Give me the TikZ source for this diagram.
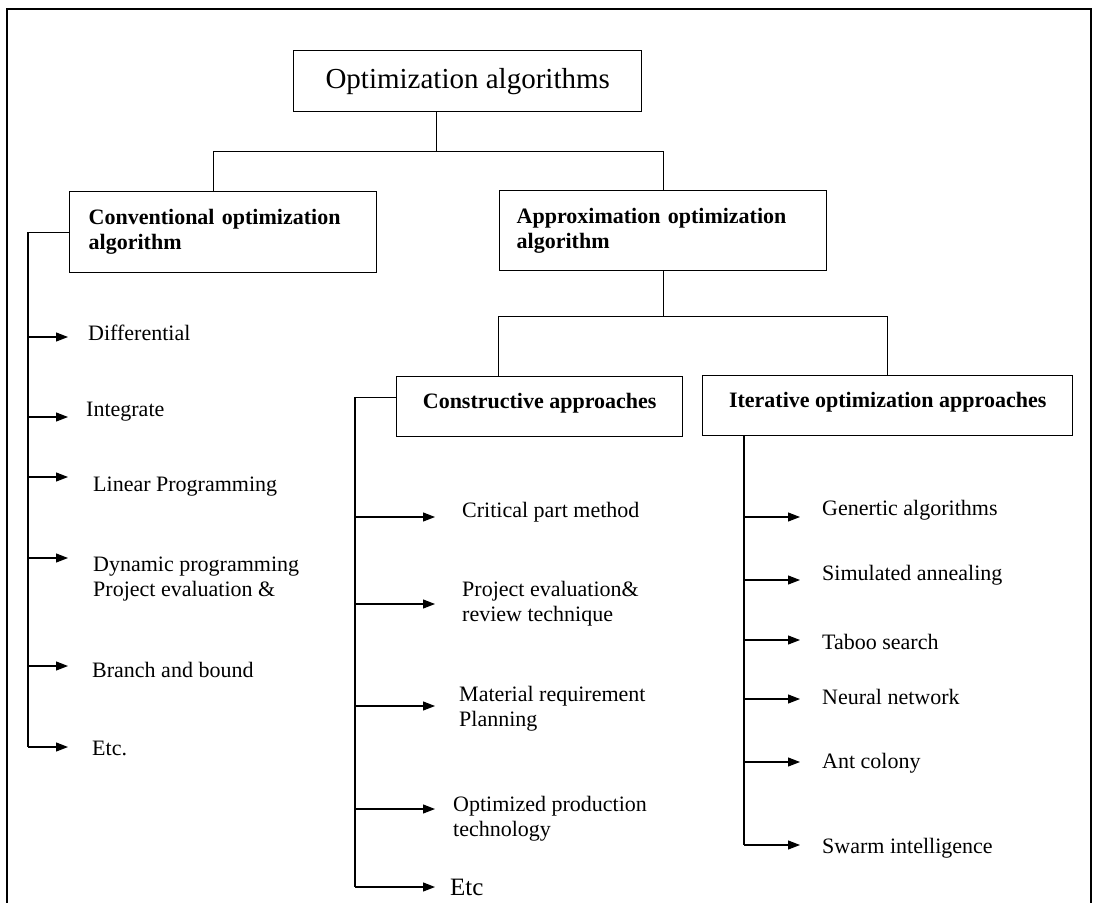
\documentclass[tikz,border=0pt]{standalone}
\usepackage{fontspec}
\setmainfont{Liberation Serif}
\usetikzlibrary{arrows.meta}
\tikzset{block/.style={draw, line width=1.4pt, anchor=north west, font=\bfseries\fontsize{22}{25}\selectfont},
item/.style={anchor=west, inner sep=0pt, align=left, font=\fontsize{22}{25}\selectfont},
link/.style={line width=1.1pt},
arrow/.style={line width=1.1pt, -{Triangle[length=12pt,width=9pt]}}
}

\begin{document}
\begin{tikzpicture}[x=1pt, y=-1pt]
    \useasboundingbox (0,0) rectangle (1096,903);
    % Frame
    \draw[line width=1.4pt] (7,903) |- (1091,9) -- (1091,903);
    % Nodes
    \node[block, font=\fontsize{29}{32}\selectfont, minimum width=348pt, minimum height=61pt] (optim) at (293,50) {Optimization algorithms};
    \node[block, minimum width=307pt, minimum height=81pt, text width=269pt, inner xsep=19pt, align=left] (conv) at (69,191) {Conventional optimization\\algorithm};
    \node[block, minimum width=327pt, minimum height=80pt, text width=293pt, inner xsep=17pt, align=left] (approx) at (499,190) {Approximation optimization\\algorithm};
    \node[block, minimum width=286pt, minimum height=60pt, text depth=12pt] (constr) at (396,376) {Constructive approaches};
    \node[block, minimum width=370pt, minimum height=60pt, text depth=12pt] (iter) at (702,375) {Iterative optimization approaches};
    % Tree
    \draw[link] ([xshift=-31pt]optim.south) -- ++(0,39) coordinate (j1);
    \draw[link] ([xshift=-10pt]conv.north) |- (j1) -| (approx.north);
    \draw[link] (approx.south) -- ++(0,45) coordinate (j2);
    \draw[link] ([xshift=-41pt]constr.north) |- (j2) -| (iter.north);
    % Conventional methods
    \foreach \n/\tx/\ty/\ay/\txt in {
        d1/88/333/337/Differential,
        d2/86/412/417/Integrate,
        d3/93/487/477/Linear Programming,
        d4/93/579/558/{Dynamic programming\\Project evaluation \&},
        d5/92/670/666/Branch and bound,
        d6/92/748/747/Etc.}{
        \node[item] (\n) at (\tx,\ty) {\txt};
        \coordinate (\n-s) at (28,\ay);
        \coordinate (\n-e) at (68,\ay);
        \draw[arrow] (\n-s) -- (\n-e);
    }
    \draw[link] (conv.west) -| (d6-s);
    % Constructive methods
    \foreach \n/\tx/\ty/\ay/\txt in {
        c1/462/512/517/Critical part method,
        c2/462/604/604/{Project evaluation\&\\review technique},
        c3/459/709/706/{Material requirement\\Planning},
        c4/453/819/809/{Optimized production\\technology}}{
        \node[item] (\n) at (\tx,\ty) {\txt};
        \coordinate (\n-s) at (355,\ay);
        \coordinate (\n-e) at (435,\ay);
        \draw[arrow] (\n-s) -- (\n-e);
    }
    \node[item, font=\fontsize{25}{28}\selectfont] (c5) at (450,887) {Etc};
    \coordinate (c5-s) at (355,887);
    \coordinate (c5-e) at (435,887);
    \draw[arrow] (c5-s) -- (c5-e);
    \draw[link] ([yshift=9pt]constr.west) -| (c5-s);
    % Iterative methods
    \foreach \n/\ty/\ay/\txt in {
        i1/510/517/Genertic algorithms,
        i2/575/580/Simulated annealing,
        i3/642/640/Taboo search,
        i4/697/699/Neural network,
        i5/763/762/Ant colony,
        i6/848/845/Swarm intelligence}{
        \node[item] (\n) at (822,\ty) {\txt};
        \coordinate (\n-s) at (744,\ay);
        \coordinate (\n-e) at (800,\ay);
        \draw[arrow] (\n-s) -- (\n-e);
    }
    \coordinate (ispine) at ([xshift=42pt]iter.south west);
    \draw[link] (ispine) -- (i6-s);
\end{tikzpicture}
\end{document}
